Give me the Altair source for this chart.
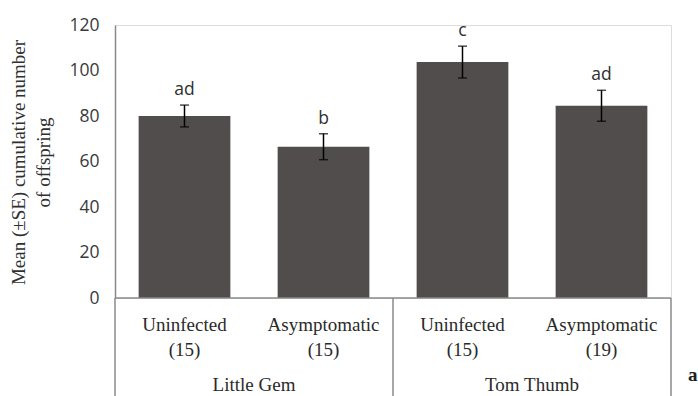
import altair as alt
import pandas as pd

# Mean cumulative offspring (±SE) per plant variety and infection status
keys = ["LG-U", "LG-A", "TT-U", "TT-A"]
status = ["Uninfected", "Asymptomatic", "Uninfected", "Asymptomatic"]
counts = ["(15)", "(15)", "(15)", "(19)"]
variety = ["Little Gem", "Little Gem", "Tom Thumb", "Tom Thumb"]
means = [80.0, 66.5, 103.7, 84.5]
se = [4.8, 5.7, 7.0, 6.8]
letters = ["ad", "b", "c", "ad"]

df = pd.DataFrame({
    "key": keys, "status": status, "n": counts, "variety": variety,
    "mean": means, "se": se, "letter": letters,
})
df["lo"] = df["mean"] - df["se"]
df["hi"] = df["mean"] + df["se"]

# group labels sit under the centre of each variety's pair of bars
groups = pd.DataFrame({"variety": ["Little Gem", "Tom Thumb"],
                       "first": ["LG-U", "TT-U"]})
# separators at the start of each group and at the right end
seps = pd.DataFrame({"key": ["LG-U", "TT-U", "TT-A"], "pos": [0, 0, 1]})

W, H = 556, 273
BAR = "#524d4d"
LINE = "#8a8a8a"
SERIF = "Liberation Serif"
SANS = "Open Sans"

xs = alt.Scale(domain=keys, paddingInner=0, paddingOuter=0)
ys = alt.Scale(domain=[0, 120])
base = alt.Chart(df)

bars = base.mark_bar(color=BAR, width={"band": 0.66}).encode(
    x=alt.X("key:N", scale=xs, axis=None),
    y=alt.Y("mean:Q", scale=ys,
            axis=alt.Axis(values=[0, 20, 40, 60, 80, 100, 120], grid=False,
                          ticks=False, domainColor=LINE, domainWidth=1.5,
                          labelFont=SANS, labelFontSize=17.5, labelColor="#3a3a3a",
                          labelPadding=16,
                          title=["Mean (±SE) cumulative number", "of offspring"],
                          titleFont=SERIF, titleFontSize=19, titleFontWeight="normal",
                          titleColor="#303030", titleAngle=-90, titleBaseline="top",
                          titleLineHeight=25, titleX=-106, titleY=137)),
)

err = base.mark_rule(color="black", strokeWidth=1.5).encode(
    x=alt.X("key:N", scale=xs), y="lo:Q", y2="hi:Q")
cap_hi = base.mark_tick(color="black", thickness=1.5, size=9, orient="horizontal").encode(
    x=alt.X("key:N", scale=xs), y="hi:Q")
cap_lo = base.mark_tick(color="black", thickness=1.5, size=9, orient="horizontal").encode(
    x=alt.X("key:N", scale=xs), y="lo:Q")

sig = base.mark_text(font=SANS, fontSize=17.5, color="#303030", baseline="alphabetic",
                     dy=-10).encode(
    x=alt.X("key:N", scale=xs), y="hi:Q", text="letter:N")

baseline = alt.Chart(pd.DataFrame({"k": [0]})).mark_rule(
    color=LINE, strokeWidth=1.5).encode(
    x=alt.value(0), x2=alt.value(W), y=alt.value(H))

sep_end = alt.Chart(seps[seps["pos"] == 1]).mark_rule(color=LINE, strokeWidth=1.5).encode(
    x=alt.X("key:N", scale=xs, bandPosition=1), y=alt.value(H), y2=alt.value(H + 100))
sep_start = alt.Chart(seps[seps["pos"] == 0]).mark_rule(color=LINE, strokeWidth=1.5).encode(
    x=alt.X("key:N", scale=xs, bandPosition=0), y=alt.value(H), y2=alt.value(H + 100))

status_lbl = base.mark_text(font=SERIF, fontSize=19, color="#2a2a2a",
                            baseline="middle").encode(
    x=alt.X("key:N", scale=xs), y=alt.value(H + 27), text="status:N")
n_lbl = base.mark_text(font=SERIF, fontSize=19, color="#2a2a2a",
                       baseline="middle").encode(
    x=alt.X("key:N", scale=xs), y=alt.value(H + 52), text="n:N")
group_lbl = alt.Chart(groups).mark_text(font=SERIF, fontSize=19, color="#2a2a2a",
                                        baseline="middle").encode(
    x=alt.X("first:N", scale=xs, bandPosition=1), y=alt.value(H + 87),
    text="variety:N")

panel = alt.Chart(pd.DataFrame({"t": ["a"]})).mark_text(
    font=SERIF, fontSize=19, fontWeight="bold", color="#202020",
    baseline="middle", align="left").encode(
    x=alt.value(W + 17), y=alt.value(H + 77), text="t:N")

chart = alt.layer(
    bars, err, cap_hi, cap_lo, sig, baseline, sep_start, sep_end,
    status_lbl, n_lbl, group_lbl, panel,
).properties(
    width=W, height=H,
    autosize=alt.AutoSizeParams(type="none"),
    padding={"left": 115, "top": 25, "right": 27, "bottom": 98},
).configure_view(stroke=None).configure(background="white")

chart.save("out.html", embed_options={"renderer": "svg", "actions": False})
